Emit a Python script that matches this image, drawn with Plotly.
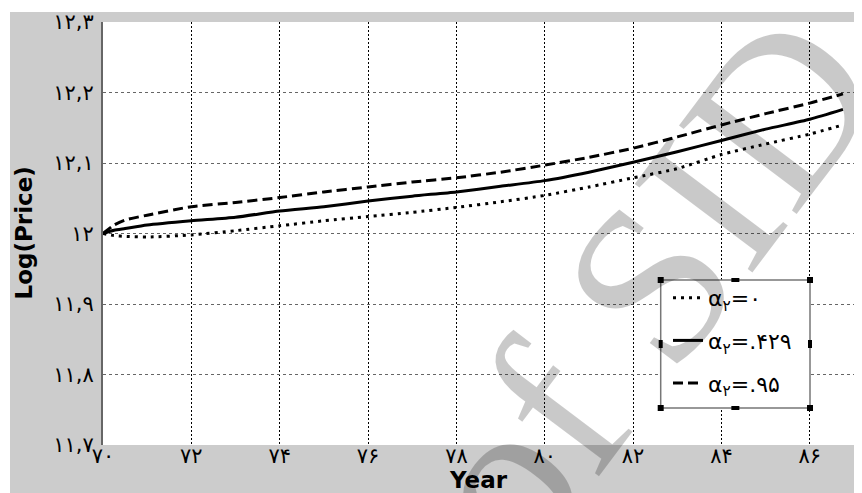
import plotly.graph_objects as go

# ---- data ----
years = [70, 70.25, 70.5, 71, 72, 73, 74, 75, 76, 77, 78, 79, 80, 81, 82, 83, 84, 85, 86, 86.75]
alpha_0 = [12.000, 11.997, 11.996, 11.995, 11.998, 12.004, 12.011, 12.018, 12.024, 12.030, 12.037,
           12.045, 12.054, 12.066, 12.079, 12.092, 12.112, 12.127, 12.141, 12.154]
alpha_429 = [12.000, 12.0045, 12.007, 12.012, 12.018, 12.023, 12.032, 12.038, 12.046, 12.053, 12.059,
             12.067, 12.075, 12.087, 12.101, 12.116, 12.132, 12.148, 12.162, 12.176]
alpha_95 = [12.000, 12.012, 12.019, 12.026, 12.038, 12.044, 12.051, 12.059, 12.066, 12.073, 12.079,
            12.087, 12.097, 12.108, 12.121, 12.137, 12.154, 12.170, 12.185, 12.198]

series_names = ["α<sub>۲</sub>=۰", "α<sub>۲</sub>=.۴۲۹", "α<sub>۲</sub>=.۹۵"]

x_tickvals = [70, 72, 74, 76, 78, 80, 82, 84, 86]
x_ticktext = ["۷۰", "۷۲", "۷۴", "۷۶", "۷۸", "۸۰", "۸۲", "۸۴", "۸۶"]
y_tickvals = [11.7, 11.8, 11.9, 12.0, 12.1, 12.2, 12.3]
y_ticktext = ["۱۱,۷", "۱۱,۸", "۱۱,۹", "۱۲", "۱۲,۱", "۱۲,۲", "۱۲,۳"]

x_title = "Year"
y_title = "Log(Price)"
watermark = "Archive of SID"

# ---- layout helpers (page pixel -> paper); the page has an 8px body margin ----
OFF = 8
W, H = 862 - OFF, 493 - OFF
L, R, T, B = 103, 854, 22, 445   # plot area in page pixels


def px(x):
    return (x - L) / (R - L)


def py(y):
    return (B - y) / (B - T)


fig = go.Figure()
styles = [dict(dash="3px,5px", width=3), dict(dash="solid", width=3), dict(dash="10px,5px", width=3)]
for i, (ys, name) in enumerate(zip([alpha_0, alpha_429, alpha_95], series_names)):
    fig.add_trace(go.Scatter(
        x=years, y=ys, mode="lines", name=name, legendgroup=f"g{i}",
        line=dict(color="black", shape="spline", smoothing=0.6, **styles[i]),
    ))

shapes = []
# white strips at top and left of the figure
shapes.append(dict(type="rect", xref="paper", yref="paper", x0=px(OFF), x1=px(862), y0=py(OFF), y1=py(12),
                   fillcolor="white", line=dict(width=0), layer="below"))
shapes.append(dict(type="rect", xref="paper", yref="paper", x0=px(OFF), x1=px(10), y0=py(OFF), y1=py(493),
                   fillcolor="white", line=dict(width=0), layer="below"))
# legend box
bx0, bx1, by0, by1 = 660.7, 810, 280, 408
shapes.append(dict(type="rect", xref="paper", yref="paper", x0=px(bx0), x1=px(bx1), y0=py(by0), y1=py(by1),
                   fillcolor="white", line=dict(color="#777777", width=1.5), layer="above"))
# selection handles
mx, my = (bx0 + bx1) / 2, (by0 + by1) / 2
handles = [(bx0, by0, 3, 3), (bx1, by0, 3, 3), (bx0, by1, 3, 3), (bx1, by1, 3, 3),
           (mx, by0, 4, 2), (mx, by1, 4, 2), (bx0, my, 2, 4), (bx1, my, 2, 4)]
for hx, hy, hw, hh in handles:
    shapes.append(dict(type="rect", xref="paper", yref="paper", x0=px(hx - hw), x1=px(hx + hw),
                       y0=py(hy - hh), y1=py(hy + hh), fillcolor="black",
                       line=dict(width=0), layer="above"))

tick_font = dict(family="DejaVu Sans", size=21, color="black")
title_font = dict(family="DejaVu Sans", size=23, color="black")

fig.update_layout(
    width=W, height=H,
    margin=dict(l=L - OFF, r=862 - R, t=T - OFF, b=493 - B, autoexpand=False),
    paper_bgcolor="#cccccc", plot_bgcolor="white",
    shapes=shapes,
    showlegend=True,
    legend=dict(x=px(668), y=py(277), xanchor="left", yanchor="top",
                bgcolor="rgba(0,0,0,0)", borderwidth=0, tracegroupgap=11,
                font=dict(family="DejaVu Sans", size=22, color="black")),
    xaxis=dict(range=[70, 87], tickvals=x_tickvals, ticktext=x_ticktext, automargin=False,
               showgrid=True, gridcolor="black", griddash="2px,2px", gridwidth=1,
               zeroline=False, showline=False, ticks="", ticklabelstandoff=-4,
               tickfont=tick_font),
    yaxis=dict(range=[11.7, 12.3], tickvals=y_tickvals, ticktext=y_ticktext, automargin=False,
               showgrid=True, gridcolor="#666666", griddash="3px,3px", gridwidth=1,
               zeroline=False, showline=True, linecolor="#666666", linewidth=2, ticks="",
               ticklabelstandoff=3, tickfont=tick_font),
    annotations=[
        dict(text=watermark, xref="paper", yref="paper",
             x=px(412), y=py(598), xanchor="center", yanchor="middle",
             textangle=-53, showarrow=False,
             font=dict(family="Liberation Serif", size=225, color="rgba(0,0,0,0.21)")),
        dict(text=f"<b>{x_title}</b>", xref="paper", yref="paper",
             x=px(478.5), y=py(480), xanchor="center", yanchor="middle",
             showarrow=False, font=title_font),
        dict(text=f"<b>{y_title}</b>", xref="paper", yref="paper",
             x=px(23), y=py(233.5), xanchor="center", yanchor="middle",
             textangle=-90, showarrow=False, font=title_font),
    ],
)

fig.write_html("out.html")
